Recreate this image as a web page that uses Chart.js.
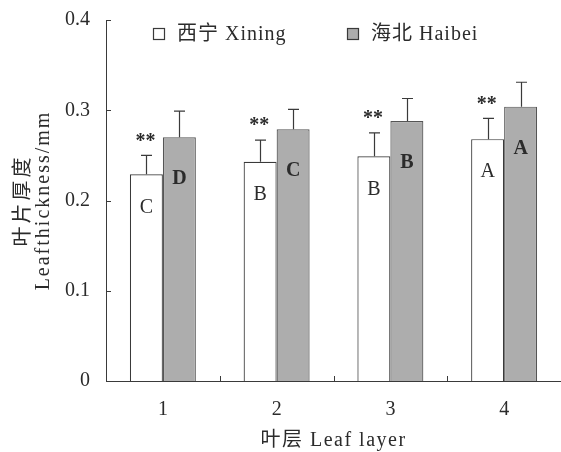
<!DOCTYPE html>
<html>
<head>
<meta charset="utf-8">
<script src="https://cdn.jsdelivr.net/npm/chart.js@4/dist/chart.umd.min.js"></script>
<style>
html,body{margin:0;padding:0;background:#fff;}
#c{display:block;}
</style>
</head>
<body>
<canvas id="c" width="561" height="452"></canvas>
<script>
// ---- data ----
const categories = ['1', '2', '3', '4'];
const seriesNames = ['西宁 Xining', '海北 Haibei'];
const xiningMean = [0.229, 0.243, 0.249, 0.268];
const xiningErr  = [0.021, 0.024, 0.026, 0.023];
const haibeiMean = [0.270, 0.279, 0.288, 0.304];
const haibeiErr  = [0.029, 0.022, 0.025, 0.027];
const xiningLetters = ['C', 'B', 'B', 'A'];
const haibeiLetters = ['D', 'C', 'B', 'A'];
const significance = ['**', '**', '**', '**'];
const yTicks = [0, 0.1, 0.2, 0.3, 0.4];
const yTitle = ['叶片厚度', 'Leafthickness/mm'];
const xTitle = '叶层 Leaf layer';

const FONT = '"Liberation Serif", "Noto Sans CJK SC", serif';
const TXT = '#2b2b2b';
const GRAY = '#adadad';
const EDGE = '#3a3a3a';

const errors = [xiningErr, haibeiErr];
const letters = [xiningLetters, haibeiLetters];

const decor = {
  id: 'decor',
  afterDatasetsDraw(chart) {
    const ctx = chart.ctx;
    const x = chart.scales.x, y = chart.scales.y;
    const area = chart.chartArea;
    ctx.save();
    // error bars
    ctx.strokeStyle = EDGE;
    ctx.lineWidth = 1.2;
    chart.data.datasets.forEach((ds, di) => {
      const meta = chart.getDatasetMeta(di);
      meta.data.forEach((bar, i) => {
        const top = y.getPixelForValue(ds.data[i] + errors[di][i]);
        const bx = Math.round(bar.x) + 0.5;
        ctx.beginPath();
        ctx.moveTo(bx, bar.y);
        ctx.lineTo(bx, top);
        ctx.moveTo(bx - 5.5, top);
        ctx.lineTo(bx + 5.5, top);
        ctx.stroke();
        // letters inside bars
        ctx.fillStyle = TXT;
        ctx.font = (di === 1 ? 'bold ' : '') + '20px ' + FONT;
        ctx.textAlign = 'center';
        ctx.textBaseline = 'middle';
        ctx.fillText(letters[di][i], bar.x, bar.y + (di === 0 ? 33 : 42));
        if (di === 0) {
          ctx.font = 'bold 20px ' + FONT;
          ctx.fillText(significance[i], bar.x - 1, top - 14);
        }
      });
    });
    // inward tick marks
    ctx.strokeStyle = EDGE;
    ctx.lineWidth = 1;
    yTicks.forEach(v => {
      const py = Math.round(y.getPixelForValue(v)) + 0.5;
      ctx.beginPath();
      ctx.moveTo(area.left, py);
      ctx.lineTo(area.left + 5, py);
      ctx.stroke();
    });
    for (let i = 1; i < categories.length; i++) {
      const px = Math.round((x.getPixelForValue(i - 1) + x.getPixelForValue(i)) / 2) + 0.5;
      ctx.beginPath();
      ctx.moveTo(px, area.bottom);
      ctx.lineTo(px, area.bottom - 5);
      ctx.stroke();
    }
    // legend
    const legendItems = [
      {x: 153, fill: '#ffffff', text: seriesNames[0], tx: 177},
      {x: 347, fill: GRAY, text: seriesNames[1], tx: 371}
    ];
    legendItems.forEach(it => {
      ctx.fillStyle = it.fill;
      ctx.fillRect(it.x + 0.5, 28.5, 11, 11);
      ctx.strokeStyle = EDGE;
      ctx.lineWidth = 1.2;
      ctx.strokeRect(it.x + 0.5, 28.5, 11, 11);
      ctx.fillStyle = TXT;
      ctx.font = '20px ' + FONT;
      ctx.textAlign = 'left';
      ctx.textBaseline = 'middle';
      ctx.letterSpacing = '1px';
      ctx.fillText(it.text, it.tx, 35);
      ctx.letterSpacing = '0px';
    });
    // axis titles
    ctx.fillStyle = TXT;
    ctx.font = '20px ' + FONT;
    ctx.textAlign = 'center';
    ctx.textBaseline = 'middle';
    ctx.letterSpacing = '1.5px';
    ctx.fillText(xTitle, (area.left + area.right) / 2, 441);
    ctx.translate(0, (area.top + area.bottom) / 2);
    ctx.rotate(-Math.PI / 2);
    ctx.letterSpacing = '3px';
    ctx.fillText(yTitle[0], 0, 24);
    ctx.letterSpacing = '2px';
    ctx.fillText(yTitle[1], 0, 44);
    ctx.restore();
  }
};

new Chart(document.getElementById('c'), {
  type: 'bar',
  data: {
    labels: categories,
    datasets: [
      {label: seriesNames[0], data: xiningMean, backgroundColor: '#ffffff', borderColor: EDGE, borderWidth: 1.2},
      {label: seriesNames[1], data: haibeiMean, backgroundColor: GRAY, borderColor: '#555555', borderWidth: 1.2}
    ]
  },
  options: {
    responsive: false,
    animation: false,
    layout: {padding: {top: 20, right: 0, left: 0, bottom: 0}},
    plugins: {legend: {display: false}, tooltip: {enabled: false}},
    datasets: {bar: {categoryPercentage: 0.58, barPercentage: 1.0}},
    scales: {
      x: {
        grid: {display: false, drawTicks: false},
        border: {display: true, color: EDGE, width: 1},
        ticks: {color: TXT, font: {family: FONT, size: 20}, padding: 17},
        afterFit(s) { s.height = 71; s.paddingLeft = 0; s.paddingRight = 0; }
      },
      y: {
        min: 0, max: 0.4,
        grid: {display: false, drawTicks: false},
        border: {display: true, color: EDGE, width: 1},
        afterBuildTicks(s) { s.ticks = yTicks.map(v => ({value: v})); },
        ticks: {color: TXT, font: {family: FONT, size: 20}, padding: 16,
                callback: v => (v === 0 ? '0' : v.toFixed(1))},
        afterFit(s) { s.width = 106; s.paddingTop = 0; s.paddingBottom = 0; }
      }
    }
  },
  plugins: [decor]
});
</script>
</body>
</html>
